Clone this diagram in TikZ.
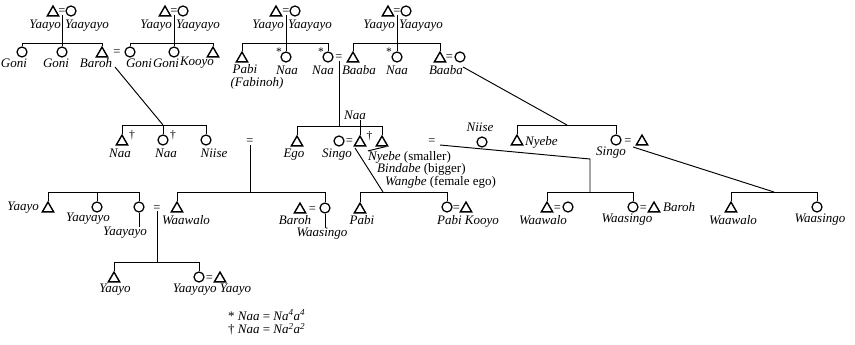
\documentclass[tikz,border=0pt]{standalone}
\usepackage{fontspec}
\setmainfont{Liberation Serif}
\usetikzlibrary{shapes.geometric}
\begin{document}
\begin{tikzpicture}[x=1pt,y=-1pt,
  male/.style={regular polygon,regular polygon sides=3,draw,line width=1.4pt,minimum size=13pt,inner sep=0pt,yshift=-1.6pt},
  fem/.style={circle,draw,line width=1.25pt,minimum size=10pt,inner sep=0pt},
  lbl/.style={font=\fontsize{13}{15}\selectfont\itshape,inner sep=0pt},
  eqs/.style={font=\fontsize{12.5}{14}\selectfont,inner sep=0pt,anchor=base,text height=5.5pt,text depth=0pt},
  mk/.style={font=\fontsize{11.5}{13}\selectfont,inner sep=0pt},
  ln/.style={line width=0.95pt},
]
\useasboundingbox (0,0) rectangle (855,345);
% bar levels
\coordinate (b1) at (0,43);
\coordinate (b3) at (0,125);
\coordinate (b3e) at (0,126);
\coordinate (b4) at (0,192);
\coordinate (b5) at (0,262);

% ---------- Family 1 ----------
\node[male] (t1m) at (53,11) {};
\node[eqs] (t1e) at (62,15) {=};
\node[fem] (t1f) at (71,11) {};
\node[lbl,anchor=east] (t1ml) at (61,25.5) {Yaayo};
\node[lbl,anchor=west] (t1fl) at (65,25.5) {Yaayayo};
\node[fem] (c1a) at (22,52) {};
\node[fem] (c1b) at (62,52) {};
\node[male] (c1c) at (102,52) {};
\node[eqs] (c1e) at (117,56) {=};
\node[lbl] (c1al) at (14,63) {Goni};
\node[lbl] (c1bl) at (56,63) {Goni};
\node[lbl] (c1cl) at (96,63) {Baroh};
\draw[ln] (t1e.south) -- (t1e.south |- b1);
\draw[ln] (c1a.north) -- (c1a.north |- b1) -- (c1c.north |- b1) -- (c1c.north);
\draw[ln] (c1b.north) -- (c1b.north |- b1);

% ---------- Family 2 ----------
\node[male] (t2m) at (165,11) {};
\node[eqs] (t2e) at (174,15) {=};
\node[fem] (t2f) at (183,11) {};
\node[lbl,anchor=east] (t2ml) at (172,25.5) {Yaayo};
\node[lbl,anchor=west] (t2fl) at (176,25.5) {Yaayayo};
\node[fem] (c2a) at (130,52) {};
\node[fem] (c2b) at (174,52) {};
\node[male] (c2c) at (213,52) {};
\node[lbl] (c2al) at (139,63) {Goni};
\node[lbl] (c2bl) at (166,63) {Goni};
\node[lbl] (c2cl) at (197,63) {Kooyo};
\draw[ln] (t2e.south) -- (t2e.south |- b1);
\draw[ln] (c2a.north) -- (c2a.north |- b1) -- (c2c.north |- b1) -- (c2c.north);
\draw[ln] (c2b.north) -- (c2b.north |- b1);

% ---------- Family 3 ----------
\node[male] (t3m) at (276,11) {};
\node[eqs] (t3e) at (286,15) {=};
\node[fem] (t3f) at (295,11) {};
\node[lbl,anchor=east] (t3ml) at (284,25.5) {Yaayo};
\node[lbl,anchor=west] (t3fl) at (288,25.5) {Yaayayo};
\node[male] (c3a) at (242,57) {};
\node[fem] (c3b) at (286,57) {};
\node[fem] (c3c) at (328,57) {};
\node[eqs] (c3e) at (339,61) {=};
\node[male] (c3d) at (353,57) {};
\node[mk] (st1) at (279,52) {*};
\node[mk] (st2) at (321,52) {*};
\node[lbl] (c3al) at (245,69) {Pabi};
\node[lbl] (c3al2) at (257,83) {(Fabinoh)};
\node[lbl] (c3bl) at (287,70) {Naa};
\node[lbl] (c3cl) at (323,70) {Naa};
\node[lbl] (c3dl) at (359,70) {Baaba};
\draw[ln] (t3e.south) -- (t3e.south |- b1);
\draw[ln] (c3a.north) -- (c3a.north |- b1) -- (c3c.north |- b1) -- (c3c.north);
\draw[ln] (c3b.north) -- (c3b.north |- b1);

% ---------- Family 4 ----------
\node[male] (t4m) at (388,11) {};
\node[eqs] (t4e) at (397,15) {=};
\node[fem] (t4f) at (406,11) {};
\node[lbl,anchor=east] (t4ml) at (395,25.5) {Yaayo};
\node[lbl,anchor=west] (t4fl) at (399,25.5) {Yaayayo};
\node[fem] (c4b) at (397,57) {};
\node[mk] (st3) at (389,52) {*};
\node[male] (c4c) at (440,57) {};
\node[eqs] (c4e) at (449.5,61) {=};
\node[fem] (c4f) at (460,57) {};
\node[lbl] (c4bl) at (397,70) {Naa};
\node[lbl] (c4cl) at (446,70) {Baaba};
\draw[ln] (t4e.south) -- (t4e.south |- b1);
\draw[ln] (c3d.north) -- (c3d.north |- b1) -- (c4c.north |- b1) -- (c4c.north);
\draw[ln] (c4b.north) -- (c4b.north |- b1);

% ---------- Row 3: Naa Naa Niise ----------
\node[male] (r3a) at (122,140) {};
\node[mk] (dg1) at (132,135) {†};
\node[fem] (r3b) at (163,140) {};
\node[mk] (dg2) at (173,135) {†};
\node[fem] (r3c) at (206,140) {};
\node[lbl] (r3al) at (120,153) {Naa};
\node[lbl] (r3bl) at (166,153) {Naa};
\node[lbl] (r3cl) at (214,153) {Niise};
\coordinate (s1) at (115,67);
\draw[ln] (r3a.north) -- (r3a.north |- b3) -- (r3c.north |- b3) -- (r3c.north);
\draw[ln] (r3b.north) -- (r3b.north |- b3);
\draw[ln] (s1) -- (r3b.north |- b3);

% "=" with descent to Waawalo / Baroh group
\node[eqs] (eqN) at (250,145) {=};

% ---------- Row 3: Ego family ----------
\node[male] (eg) at (297,141) {};
\node[fem] (sg) at (339,141) {};
\node[eqs] (sge) at (349.5,145) {=};
\node[male] (nt) at (360,141) {};
\node[mk] (dg3) at (369.5,136) {†};
\node[male] (ny) at (382,141) {};
\node[lbl] (egl) at (294,155) {Ego};
\node[lbl] (sgl) at (337,155) {Singo};
\node[lbl] (ntl) at (355,115) {Naa};
\node[lbl,anchor=west] (nyl1) at (368,157) {Nyebe \upshape(smaller)};
\node[lbl,anchor=west] (nyl2) at (377,169) {Bindabe \upshape(bigger)};
\node[lbl,anchor=west] (nyl3) at (385,182) {Wangbe \upshape(female ego)};
\draw[ln] (c3e.south) -- (c3e.south |- b3e);
\draw[ln] (eg.north) -- (eg.north |- b3e) -- (ny.north |- b3e) -- (ny.north);
\draw[ln] (nt.north) -- (nt.north |- ntl.south);
\draw[ln] (ny.south east) -- (nyl1.north west);

% ---------- Niise (2) ----------
\node[eqs] (eqM) at (432,144) {=};
\node[fem] (ni2) at (482,142) {};
\node[lbl] (ni2l) at (480,127) {Niise};

% ---------- Row 3: Nyebe / Singo ----------
\node[male] (ny2) at (517,140) {};
\node[lbl,anchor=west] (ny2l) at (525,142) {Nyebe};
\node[fem] (sg2) at (616,140) {};
\node[eqs] (sg2e) at (628,144) {=};
\node[male] (sg2m) at (642,140) {};
\node[lbl] (sg2l) at (611,153) {Singo};
\coordinate (s4) at (463,67);
\coordinate (s4e) at (567,125);
\draw[ln] (ny2.north) -- (ny2.north |- b3) -- (sg2.north |- b3) -- (sg2.north);
\draw[ln] (s4) -- (s4e);

% ---------- Row 4: left sibling group ----------
\node[male] (l4a) at (48,207) {};
\node[lbl,anchor=east] (l4al) at (39,208) {Yaayo};
\node[fem] (l4b) at (97,207) {};
\node[lbl] (l4bl) at (88,219) {Yaayayo};
\node[fem] (l4c) at (139,207) {};
\node[lbl] (l4cl) at (125,233) {Yaayayo};
\node[eqs] (l4e) at (157,211) {=};
\node[male] (l4d) at (177,207) {};
\node[lbl] (l4dl) at (186,220) {Waawalo};
\draw[ln] (l4a.north) -- (l4a.north |- b4) -- (l4c.north |- b4) -- (l4c.north);
\draw[ln] (l4b.north) -- (l4b.north |- b4);
\draw[ln] (l4c.south) -- (l4c.south |- l4cl.north);

% middle group under "="
\node[male] (m4a) at (300,208) {};
\node[eqs] (m4e) at (312.5,212) {=};
\node[fem] (m4b) at (325,208) {};
\node[lbl] (m4al) at (295,220) {Baroh};
\node[lbl] (m4bl) at (322,234) {Waasingo};
\draw[ln] (eqN.south) -- (eqN.south |- b4);
\draw[ln] (l4d.north) -- (l4d.north |- b4) -- (m4b.north |- b4) -- (m4b.north);
\draw[ln] (m4b.south) -- (m4b.south |- m4bl.north);

% Pabi group
\node[male] (p4a) at (360,208) {};
\node[lbl] (p4al) at (362,220) {Pabi};
\node[fem] (p4b) at (447,207) {};
\node[eqs] (p4e) at (456.5,211) {=};
\node[male] (p4c) at (466,207) {};
\node[lbl] (p4bl) at (468,221.5) {Pabi Kooyo};
\coordinate (s5) at (355,148);
\coordinate (s5e) at (383,192);
\draw[ln] (p4a.north) -- (p4a.north |- b4) -- (p4b.north |- b4) -- (p4b.north);
\draw[ln] (s5) -- (s5e);

% Waawalo / Waasingo group
\node[male] (w4a) at (547,207) {};
\node[eqs] (w4e) at (557.5,211) {=};
\node[fem] (w4b) at (568,207) {};
\node[lbl] (w4al) at (543,220) {Waawalo};
\node[fem] (w4c) at (633,207) {};
\node[eqs] (w4e2) at (643.5,211) {=};
\node[male] (w4d) at (654,207) {};
\node[lbl,anchor=west] (w4dl) at (663,207) {Baroh};
\node[lbl] (w4cl) at (627,220) {Waasingo};
\coordinate (s6) at (440,145);
\coordinate (s6k) at (590,159);
\draw[ln] (w4a.north) -- (w4a.north |- b4) -- (w4c.north |- b4) -- (w4c.north);
\draw[ln] (s6) -- (s6k) -- (s6k |- b4);

% right group
\node[male] (x4a) at (731,207) {};
\node[lbl] (x4al) at (733,220) {Waawalo};
\node[fem] (x4b) at (817,207) {};
\node[lbl] (x4bl) at (820,220) {Waasingo};
\coordinate (s7) at (633,147);
\coordinate (s7e) at (774,192);
\draw[ln] (x4a.north) -- (x4a.north |- b4) -- (x4b.north |- b4) -- (x4b.north);
\draw[ln] (s7) -- (s7e);

% ---------- Row 5 ----------
\node[male] (r5a) at (114,277) {};
\node[lbl] (r5al) at (115,290) {Yaayo};
\node[fem] (r5b) at (199,277) {};
\node[eqs] (r5e) at (209.5,281) {=};
\node[male] (r5c) at (220,277) {};
\node[lbl] (r5bl) at (212,290) {Yaayayo Yaayo};
\draw[ln] (l4e.south) -- (l4e.south |- b5);
\draw[ln] (r5a.north) -- (r5a.north |- b5) -- (r5b.north |- b5) -- (r5b.north);

% ---------- Footnotes ----------
\node[lbl,anchor=west] (fn1) at (228,315) {\upshape* \itshape Naa \upshape= \itshape Na\textsuperscript{4}a\textsuperscript{4}};
\node[lbl,anchor=west] (fn2) at (228,329) {\upshape† \itshape Naa \upshape= \itshape Na\textsuperscript{2}a\textsuperscript{2}};
\end{tikzpicture}
\end{document}
